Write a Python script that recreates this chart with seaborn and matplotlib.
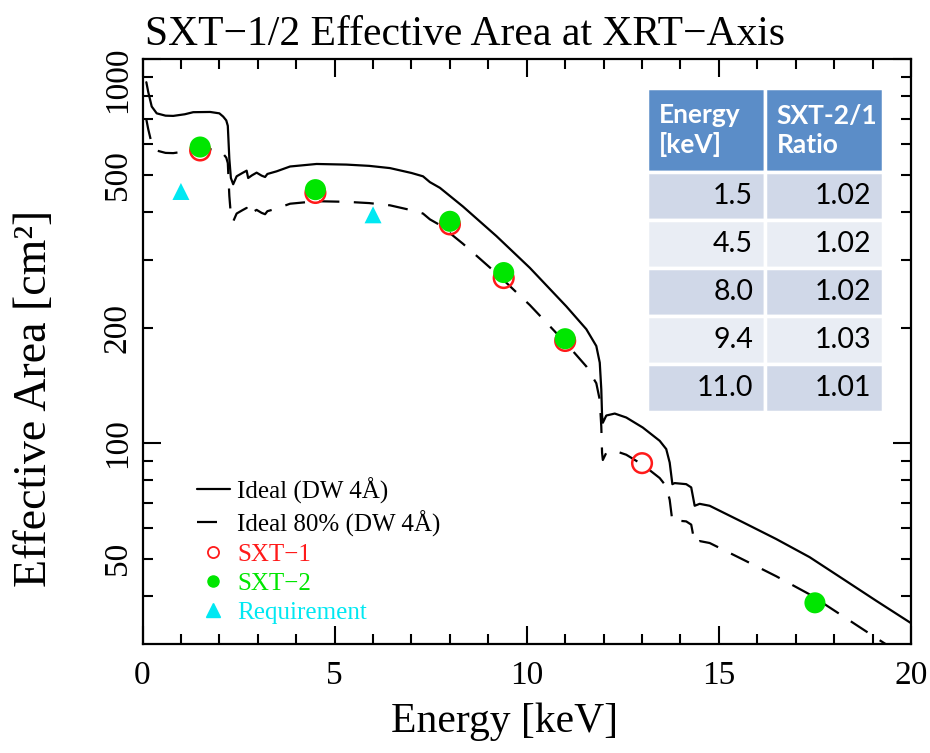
import numpy as np
import pandas as pd
import matplotlib
matplotlib.use("Agg")
import matplotlib.pyplot as plt
import matplotlib.transforms as mtransforms
import seaborn as sns
from matplotlib.lines import Line2D
from matplotlib.legend_handler import HandlerLine2D
from matplotlib.ticker import FixedLocator, FuncFormatter, MultipleLocator

# ---------------- data ----------------
energy_ideal = [0.10, 0.15, 0.24, 0.37, 0.60, 0.80, 1.10, 1.32, 1.76, 2.00, 2.10, 2.18, 2.22,
                2.26, 2.30, 2.36, 2.45, 2.60, 2.71, 2.75, 2.85, 2.97, 3.10, 3.19, 3.25, 3.49,
                3.84, 4.53, 5.31, 5.90, 6.44, 7.00, 7.30, 7.48, 7.74, 8.34, 9.21, 10.08, 11.03,
                11.55, 11.81, 11.90, 11.94, 11.96, 11.98, 12.07, 12.29, 12.59, 13.02, 13.46,
                13.63, 13.72, 13.79, 13.85, 14.15, 14.28, 14.37, 14.50, 14.76, 15.63, 16.49,
                17.36, 18.23, 19.09, 19.96, 20.00]
area_ideal = [870, 820, 752, 722, 712, 711, 718, 727, 728, 722, 708, 692, 670,
              550, 490, 472, 495, 505, 512, 490, 498, 506, 497, 493, 502, 510,
              525, 533, 531, 527, 520, 505, 495, 478, 462, 413, 346, 286, 227,
              198, 179, 162, 138, 118, 113, 118, 119.4, 116.6, 109.8, 101.4,
              96.5, 89.0, 78.2, 78.7, 78.2, 76.7, 68.7, 69.5, 68.7, 62.2, 56.3,
              50.5, 44.3, 38.9, 34.2, 34.0]
ideal_fraction = 0.80  # "Ideal 80%"

sxt1_energy = [1.5, 4.5, 8.0, 9.4, 11.0, 13.0]
sxt1_area = [578, 448, 371, 269, 184.5, 88.7]
sxt2_energy = [1.5, 4.5, 8.0, 9.4, 11.0, 17.5]
sxt2_area = [590, 457, 378, 278, 187, 38.4]
req_energy = [1.0, 6.0]
req_area = [452, 393]

table_energy = ["1.5", "4.5", "8.0", "9.4", "11.0"]
table_ratio = ["1.02", "1.02", "1.02", "1.03", "1.01"]
table_header = ["Energy\n[keV]", "SXT-2/1\nRatio"]

legend_labels = ["Ideal (DW 4Å)", "Ideal 80% (DW 4Å)", "SXT\u22121", "SXT\u22122", "Requirement"]

RED = "#FF1A1A"
GREEN = "#00E600"
CYAN = "#00E8F2"

# ---------------- style ----------------
sns.set_style("ticks")
plt.rcParams["font.family"] = ["Liberation Serif", "DejaVu Serif"]
plt.rcParams.update({"text.color": "black", "axes.labelcolor": "black",
                     "xtick.color": "black", "ytick.color": "black",
                     "axes.edgecolor": "black", "axes.linewidth": 1.6})

W, H = 930, 753
fig = plt.figure(figsize=(W / 100, H / 100), dpi=100)
L, R, T, B = 142.5, 911, 59, 644
ax = fig.add_axes([L / W, 1 - B / H, (R - L) / W, (B - T) / H])
ax.set_yscale("log")

df_ideal = pd.DataFrame({"energy": energy_ideal, "area": area_ideal})
df_ideal["area80"] = df_ideal["area"] * ideal_fraction

sns.lineplot(data=df_ideal, x="energy", y="area", ax=ax, color="black", lw=1.6,
             estimator=None, sort=False, legend=False)
sns.lineplot(data=df_ideal, x="energy", y="area80", ax=ax, color="black", lw=1.6,
             linestyle=(0, (9, 6.5)), estimator=None, sort=False, legend=False)

sns.scatterplot(x=sxt1_energy, y=sxt1_area, ax=ax, marker="o", s=200,
                facecolor="none", edgecolor=RED, linewidth=1.8, zorder=4, legend=False)
sns.scatterplot(x=sxt2_energy, y=sxt2_area, ax=ax, marker="o", s=230, color=GREEN,
                edgecolor="none", zorder=5, legend=False)
sns.scatterplot(x=req_energy, y=req_area, ax=ax, marker="^", s=150, color=CYAN,
                edgecolor="none", zorder=5, legend=False)

ax.set_xlim(0, 20)
ax.set_ylim(30, 1000)
ax.set_xlabel("")
ax.set_ylabel("")

# ticks
ax.xaxis.set_major_locator(FixedLocator([0, 5, 10, 15, 20]))
ax.xaxis.set_minor_locator(MultipleLocator(1))
ax.yaxis.set_major_locator(FixedLocator([100, 1000]))
ax.yaxis.set_minor_locator(FixedLocator([40, 50, 60, 70, 80, 90, 200, 300, 400, 500, 600, 700, 800, 900]))
ax.yaxis.set_major_formatter(FuncFormatter(lambda v, p: f"{v:g}"))
ax.yaxis.set_minor_formatter(FuncFormatter(lambda v, p: f"{v:g}" if round(v) in (50, 200, 500) else ""))
ax.tick_params(which="both", direction="in", top=True, right=True, width=1.5, color="black")
ax.tick_params(which="major", length=13)
ax.tick_params(which="minor", length=7)
ax.tick_params(axis="x", which="both", labelsize=24, pad=12)
ax.tick_params(axis="y", which="both", labelsize=24, pad=7, labelrotation=90)
for lab in ax.get_yticklabels(which="both"):
    lab.set_va("center")
# nudge the top "1000" label down a little, as in the reference
top_tick = ax.yaxis.get_major_ticks()[1]
top_tick.label1.set_transform(top_tick.label1.get_transform() +
                              mtransforms.ScaledTranslation(0, -0.21, fig.dpi_scale_trans))

for s in ax.spines.values():
    s.set_linewidth(1.6)
    s.set_color("black")

# texts
fig.text(145 / W, 1 - 45 / H, "SXT\u22121/2 Effective Area at XRT\u2212Axis", fontsize=30,
         ha="left", va="baseline")
fig.text(505 / W, 1 - 722 / H, "Energy [keV]", fontsize=30, ha="center", va="center")
fig.text(35 / W, 1 - 398 / H, "Effective Area [cm²]", fontsize=33, rotation=90,
         ha="center", va="center")

# legend
class LeftMarker(HandlerLine2D):
    def get_xdata(self, legend, xdescent, ydescent, width, height, fontsize):
        return [-xdescent, -xdescent + width], [-xdescent + 0.07 * width]

handles = [
    Line2D([], [], color="black", lw=1.6),
    Line2D([], [], color="black", lw=1.6, linestyle=(0, (9, 6.5))),
    Line2D([], [], ls="none", marker="o", mfc="none", mec=RED, ms=8, mew=1.3),
    Line2D([], [], ls="none", marker="o", mfc=GREEN, mec=GREEN, ms=8),
    Line2D([], [], ls="none", marker="^", mfc=CYAN, mec=CYAN, ms=10),
]
hmap = {h: LeftMarker() for h in handles[2:]}
leg = ax.legend(handles, legend_labels, loc="lower left", bbox_to_anchor=(0.071, 0.035),
                frameon=False, fontsize=18, handlelength=1.3, handletextpad=0.3,
                labelspacing=0.26, borderpad=0, borderaxespad=0, handler_map=hmap)
for txt, col in zip(leg.get_texts(), ["black", "black", RED, GREEN, CYAN]):
    txt.set_color(col)

# table
cell_text = [[e, r] for e, r in zip(table_energy, table_ratio)]
tbl = ax.table(cellText=cell_text, colLabels=table_header, cellLoc="right", colLoc="left",
               bbox=[(647 - L) / (R - L), (B - 412) / (B - T), (883 - 647) / (R - L), (412 - 88) / (B - T)],
               zorder=6)
tbl.auto_set_font_size(False)
HEADER = "#5B8DC8"
DARK = "#D0D8E8"
LIGHT = "#E9EDF4"
for (r, c), cell in tbl.get_celld().items():
    cell.set_edgecolor("white")
    cell.set_linewidth(2.5)
    txt = cell.get_text()
    txt.set_fontfamily("Lato")
    if r == 0:
        cell.set_facecolor(HEADER)
        cell.set_height(cell.get_height() * 83 / 47.4)
        txt.set_color("white")
        txt.set_fontweight("bold")
        txt.set_fontsize(19)
        txt.set_linespacing(1.25)
    else:
        cell.set_facecolor(DARK if r % 2 == 1 else LIGHT)
        txt.set_color("black")
        txt.set_fontsize(20.5)

fig.savefig("out.png", dpi=100)
